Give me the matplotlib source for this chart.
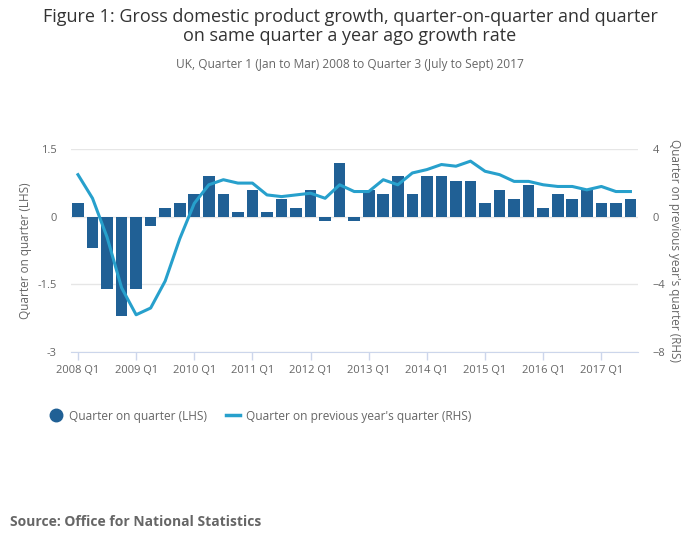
import numpy as np
import matplotlib
matplotlib.use('Agg')
import matplotlib.pyplot as plt
from matplotlib.lines import Line2D

# 数据
quarters = [f"{y} Q{q}" for y in range(2008, 2018) for q in range(1, 5)][:39]
qoq = [0.3, -0.7, -1.6, -2.2, -1.6, -0.2, 0.2, 0.3,
       0.5, 0.9, 0.5, 0.1, 0.6, 0.1, 0.4, 0.2,
       0.6, -0.1, 1.2, -0.1, 0.6, 0.5, 0.9, 0.5,
       0.9, 0.9, 0.8, 0.8, 0.3, 0.6, 0.4, 0.7,
       0.2, 0.5, 0.4, 0.6, 0.3, 0.3, 0.4]
yoy = [2.5, 1.1, -1.2, -4.2, -5.8, -5.4, -3.8, -1.3,
       0.8, 1.9, 2.2, 2.0, 2.0, 1.3, 1.2, 1.3,
       1.4, 1.1, 1.9, 1.5, 1.5, 2.2, 1.9, 2.6,
       2.8, 3.1, 3.0, 3.3, 2.7, 2.5, 2.1, 2.1,
       1.9, 1.8, 1.8, 1.6, 1.8, 1.5, 1.5]

bar_color = '#206095'
line_color = '#27a0cc'
grey = '#666666'

plt.rcParams['font.family'] = ['Open Sans', 'DejaVu Sans']

fig = plt.figure(figsize=(7, 5.49), dpi=100)
ax = fig.add_axes([0.101, 0.359, 0.81, 0.369])
ax2 = ax.twinx()

x = np.arange(len(quarters))
ax.bar(x, qoq, width=0.8, color=bar_color, zorder=3)
ax2.plot(x, yoy, color=line_color, linewidth=2.2, zorder=4)

ax.set_xlim(-0.5, 38.5)
ax.set_ylim(-3, 1.5)
ax2.set_ylim(-8, 4)
ax.set_yticks([-3, -1.5, 0, 1.5])
ax.set_yticklabels(['-3', '-1.5', '0', '1.5'])
ax2.set_yticks([-8, -4, 0, 4])
ax.set_xticks(x[::4])
ax.set_xticklabels(quarters[::4])

ax.grid(axis='y', color='#e6e6e6', linewidth=1, zorder=0)
ax.set_axisbelow(True)
for a in (ax, ax2):
    for s in ['top', 'left', 'right']:
        a.spines[s].set_visible(False)
    a.spines['bottom'].set_color('#ccd6eb')
ax2.spines['bottom'].set_visible(False)

ax.tick_params(axis='x', colors='#ccd6eb', labelcolor=grey, labelsize=8, length=6, width=1)
ax.tick_params(axis='y', length=0, labelcolor=grey, labelsize=8, pad=10)
ax2.tick_params(axis='y', length=0, labelcolor=grey, labelsize=8, pad=11)

ax.set_ylabel('Quarter on quarter (LHS)', color=grey, fontsize=8.5, labelpad=4)
ax2.set_ylabel("Quarter on previous year's quarter (RHS)", color=grey, fontsize=8.5,
               rotation=270, labelpad=11)

fig.text(0.5, 0.952, 'Figure 1: Gross domestic product growth, quarter-on-quarter and quarter\n'
         'on same quarter a year ago growth rate', ha='center', va='center',
         fontsize=13, color='#333333', linespacing=1.1)
fig.text(0.5, 0.883, 'UK, Quarter 1 (Jan to Mar) 2008 to Quarter 3 (July to Sept) 2017',
         ha='center', va='center', fontsize=8.6, color=grey)

handles = [Line2D([], [], marker='o', linestyle='none', markersize=9, color=bar_color),
           Line2D([], [], color=line_color, linewidth=2.5)]
fig.legend(handles, ['Quarter on quarter (LHS)', "Quarter on previous year's quarter (RHS)"],
           loc='center left', bbox_to_anchor=(0.055, 0.242), ncol=2, frameon=False,
           fontsize=8.6, labelcolor=grey, handlelength=1.2, columnspacing=1.6,
           handletextpad=0.45)

fig.text(0.014, 0.049, 'Source: Office for National Statistics', fontsize=10,
         fontweight='bold', color=grey, va='center')

fig.savefig('out.png', dpi=100)
